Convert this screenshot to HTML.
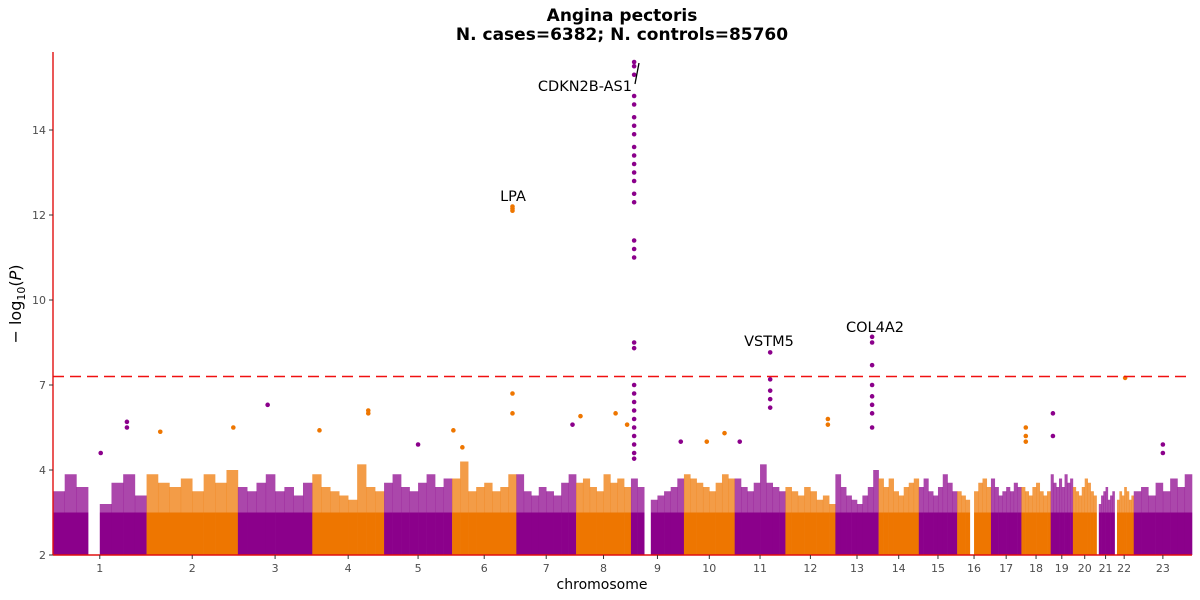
<!DOCTYPE html>
<html><head><meta charset="utf-8">
<style>
html,body{margin:0;padding:0;background:#fff;}
svg{display:block;font-family:"DejaVu Sans","Liberation Sans",sans-serif;}
</style></head>
<body>
<svg id="chart" width="1200" height="600" viewBox="0 0 1200 600">
  <text x="622" y="21" text-anchor="middle" font-size="17" font-weight="bold">Angina pectoris</text>
  <text x="622" y="40" text-anchor="middle" font-size="17" font-weight="bold">N. cases=6382; N. controls=85760</text>
  <g id="marks"></g>
  <g id="axes"></g>
  <text x="602" y="589" text-anchor="middle" font-size="14">chromosome</text>
  <text transform="translate(21,304) rotate(-90)" text-anchor="middle" font-size="16">− log<tspan font-size="11" dy="4">10</tspan><tspan dy="-4">(</tspan><tspan font-style="italic">P</tspan>)</text>
</svg>
<script>
const chromNames = ["1","2","3","4","5","6","7","8","9","10","11","12","13","14","15","16","17","18","19","20","21","22","23"];
const chromLengths = [249,243,198,191,181,171,159,146,141,135,135,133,115,107,102,90,81,78,59,63,48,51,155];
const yTickValues = [2,4,7,10,12,14];
const threshold = 7.3;
const baseLevel = 3.0;
const envelopeTops = [
 [3.5,3.9,3.6,2.0,3.2,3.7,3.9,3.4],
 [3.9,3.7,3.6,3.8,3.5,3.9,3.7,4.0],
 [3.6,3.5,3.7,3.9,3.5,3.6,3.4,3.7],
 [3.9,3.6,3.5,3.4,3.3,4.2,3.6,3.5],
 [3.7,3.9,3.6,3.5,3.7,3.9,3.6,3.8],
 [3.8,4.3,3.5,3.6,3.7,3.5,3.6,3.9],
 [3.9,3.5,3.4,3.6,3.5,3.4,3.7,3.9],
 [3.7,3.8,3.6,3.5,3.9,3.7,3.8,3.6],
 [3.8,3.6,2.0,3.3,3.4,3.5,3.6,3.8],
 [3.9,3.8,3.7,3.6,3.5,3.7,3.9,3.8],
 [3.8,3.6,3.5,3.7,4.2,3.7,3.6,3.5],
 [3.6,3.5,3.4,3.6,3.5,3.3,3.4,3.2],
 [3.9,3.6,3.4,3.3,3.2,3.4,3.6,4.0],
 [3.8,3.6,3.8,3.5,3.4,3.6,3.7,3.8],
 [3.6,3.8,3.5,3.4,3.6,3.9,3.7,3.5],
 [3.5,3.4,3.3,2.0,3.5,3.7,3.8,3.6],
 [3.8,3.6,3.4,3.5,3.6,3.5,3.7,3.6],
 [3.6,3.5,3.4,3.6,3.7,3.5,3.4,3.5],
 [3.9,3.7,3.6,3.8,3.6,3.9,3.7,3.8],
 [3.6,3.5,3.4,3.6,3.8,3.7,3.5,3.4],
 [2.0,3.2,3.4,3.5,3.6,3.3,3.4,3.5],
 [2.0,3.3,3.5,3.4,3.6,3.5,3.3,3.4],
 [3.5,3.6,3.4,3.7,3.5,3.8,3.6,3.9]
];
const hitChrom = [0,0,0,1,1,2,3,3,3,4,5,5,5,5,6,7,7,7,
 8,8,8,8,8,8,8,8,8,8,8,8,8,8,8,8,8,8,8,8,8,8,8,8,8,8,8,8,8,8,
 5,5,5,8,9,9,10,10,10,10,10,10,11,11,12,12,12,12,12,12,12,12,17,17,17,18,18,21,22,22];
const hitPos = [0.51,0.79,0.79,0.15,0.95,0.4,0.1,0.78,0.78,0.5,0.02,0.16,0.94,0.94,0.94,0.08,0.72,0.93,
 0.06,0.06,0.06,0.06,0.06,0.06,0.06,0.06,0.06,0.06,0.06,0.06,0.06,0.06,0.06,0.06,0.06,0.06,0.06,0.06,0.06,0.06,0.06,0.06,0.06,0.06,0.06,0.06,0.06,0.06,
 0.94,0.94,0.94,0.94,0.45,0.8,0.1,0.7,0.7,0.7,0.7,0.7,0.85,0.85,0.85,0.85,0.85,0.85,0.85,0.85,0.85,0.85,0.15,0.15,0.15,0.1,0.1,0.55,0.5,0.5];
const hitVal = [4.6,5.7,5.5,5.35,5.5,6.3,5.4,6.1,6.0,4.9,5.4,4.8,6.7,6.0,5.6,5.9,6.0,5.6,
 15.6,15.5,15.3,14.8,14.6,14.3,14.1,13.9,13.6,13.4,13.2,13.0,12.8,12.5,12.3,11.4,11.2,11.0,8.5,8.3,7.0,6.7,6.4,6.1,5.8,5.5,5.2,4.9,4.6,4.4,
 12.1,12.15,12.2,5.0,5.0,5.3,5.0,8.15,7.2,6.8,6.5,6.2,5.8,5.6,8.7,8.5,7.7,7.0,6.6,6.3,6.0,5.5,5.5,5.2,5.0,6.0,5.2,7.25,4.6,4.9];

const X0 = 53, X1 = 1192, Y0 = 555, YTOP = 52;
const yTickPix = [555,470,385,300,215,130];
const totalLen = chromLengths.reduce((a,b)=>a+b,0);
const chromStart = [];
let acc = 0;
chromLengths.forEach(l=>{chromStart.push(acc); acc+=l;});
function xScale(ci, frac){ return X0 + (chromStart[ci] + frac*chromLengths[ci]) / totalLen * (X1-X0); }
function yScale(v){
  for(let i=0;i<yTickValues.length-1;i++){
    if(v<=yTickValues[i+1]) return yTickPix[i] + (v-yTickValues[i])/(yTickValues[i+1]-yTickValues[i])*(yTickPix[i+1]-yTickPix[i]);
  }
  const n=yTickValues.length-1;
  return yTickPix[n] + (v-yTickValues[n])/(yTickValues[n]-yTickValues[n-1])*(yTickPix[n]-yTickPix[n-1]);
}
const NS="http://www.w3.org/2000/svg";
function mk(tag, attrs, parent){ const e=document.createElementNS(NS,tag); for(const k in attrs) e.setAttribute(k,attrs[k]); parent.appendChild(e); return e; }
const colors=["#8B008B","#EE7600"];
const marks=document.getElementById('marks');
chromLengths.forEach((len,ci)=>{
  const col=colors[ci%2];
  const g=mk('g',{},marks);
  
  
  const bins=envelopeTops[ci];
  const nb=bins.length;
  bins.forEach((top,bi)=>{
    const xa=xScale(ci,bi/nb), xb=xScale(ci,(bi+1)/nb);
    if(top<=2.05) return;
    const base=Math.min(baseLevel,top);
    const r=mk('rect',{x:xa,y:yScale(base),width:xb-xa+0.3,height:Y0-yScale(base),fill:col},g);
    
    
    const f=mk('rect',{x:xa,y:yScale(top),width:xb-xa+0.3,height:yScale(base)-yScale(top),fill:col,opacity:0.72},g);
    
    
  });
});
hitVal.forEach((v,i)=>{
  const ci=hitChrom[i];
  const c=mk('circle',{cx:xScale(ci,hitPos[i]),cy:yScale(v),r:2.3,fill:colors[ci%2]},marks);
  
  
});
const th=mk('line',{x1:X0,x2:X1,y1:yScale(threshold),y2:yScale(threshold),stroke:"#f01010","stroke-width":1.6,"stroke-dasharray":"11,6"},marks);


const labels=[["LPA",513,201,"middle"],["VSTM5",769,346,"middle"],["COL4A2",875,332,"middle"],["CDKN2B-AS1",632,91,"end"]];
labels.forEach(l=>{
  const t=mk('text',{x:l[1],y:l[2],"text-anchor":l[3],"font-size":14.5},marks);
  t.textContent=l[0];
  
  
});
const seg=mk('line',{x1:635,y1:84,x2:639,y2:63,stroke:"#000","stroke-width":1.3},marks);


const axes=document.getElementById('axes');
const ya=mk('line',{x1:X0,x2:X0,y1:YTOP,y2:Y0,stroke:"#e01010","stroke-width":1.4},axes);


const xa=mk('line',{x1:X0,x2:X1,y1:Y0,y2:Y0,stroke:"#e01010","stroke-width":1.4},axes);


yTickValues.forEach(v=>{
  const y=yScale(v);
  const tk=mk('line',{x1:X0-4,x2:X0,y1:y,y2:y,stroke:"#333","stroke-width":1},axes);
  
  
  const t=mk('text',{x:X0-7,y:y+4,"text-anchor":"end","font-size":11,fill:"#4d4d4d"},axes);
  t.textContent=v;
  
  
});
chromNames.forEach((n,ci)=>{
  const x=xScale(ci,0.5);
  const tk=mk('line',{x1:x,x2:x,y1:Y0,y2:Y0+4,stroke:"#333","stroke-width":1},axes);
  
  
  const t=mk('text',{x:x,y:Y0+17,"text-anchor":"middle","font-size":11,fill:"#4d4d4d"},axes);
  t.textContent=n;
  
  
});
</script>
</body></html>
